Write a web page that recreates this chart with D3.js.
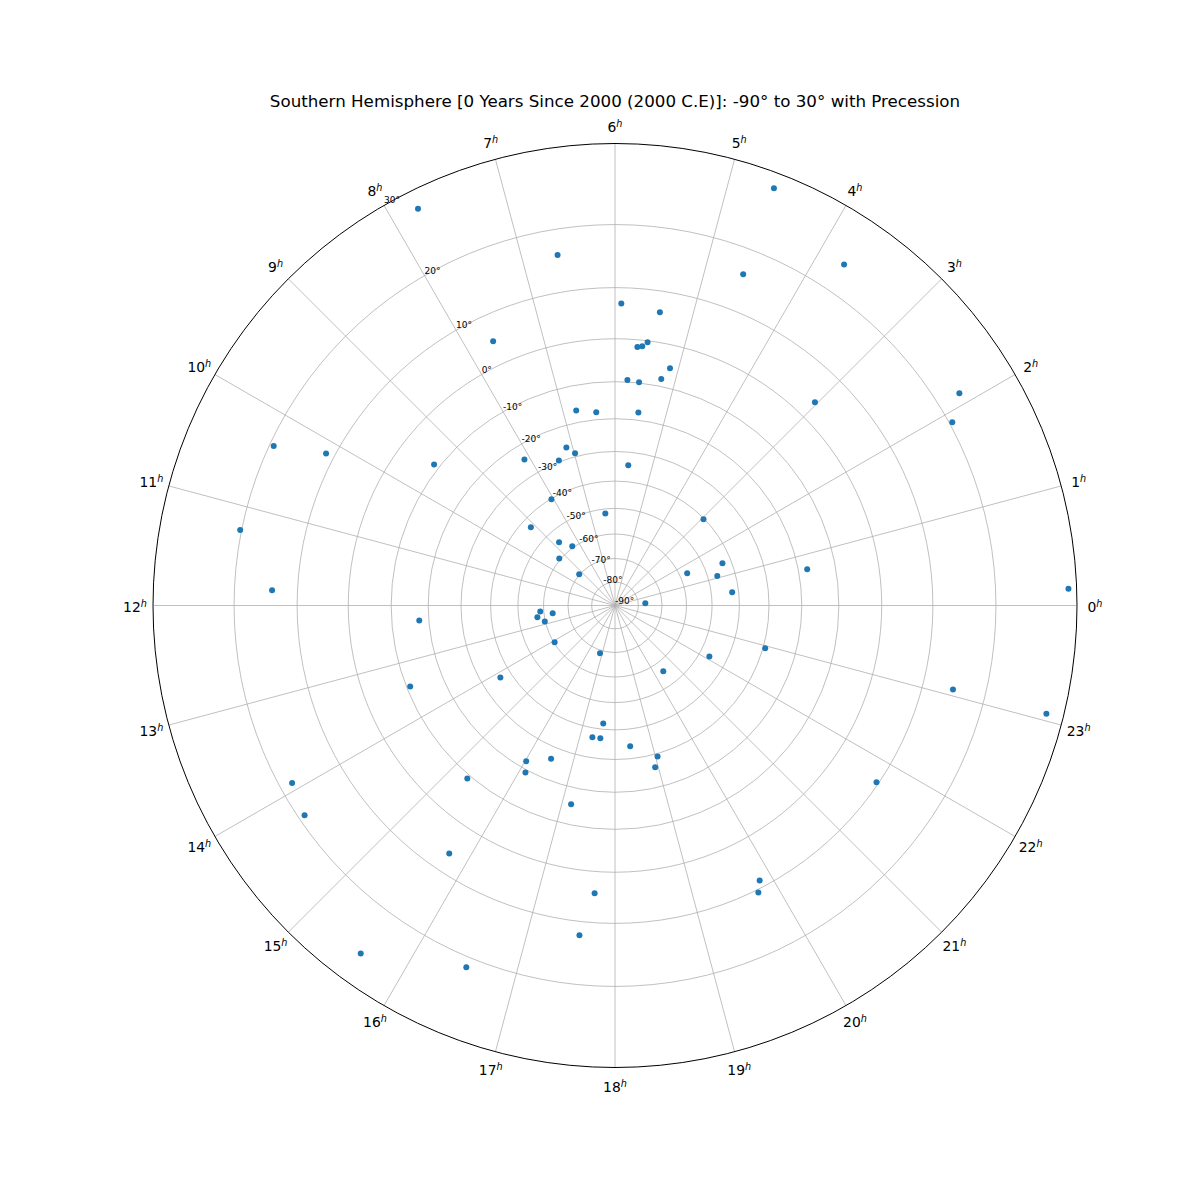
<!DOCTYPE html>
<html>
<head>
<meta charset="utf-8">
<script src="https://cdn.jsdelivr.net/npm/d3@7"></script>
<style>
  body { margin: 0; background: #ffffff; }
  svg { display: block; font-family: "DejaVu Sans", sans-serif; }
</style>
</head>
<body>
<svg id="chart" width="1200" height="1200"></svg>
<script>
// ---------------- data ----------------
const titleText = "Southern Hemisphere [0 Years Since 2000 (2000 C.E)]: -90° to 30° with Precession";
const hourTicks = d3.range(0, 24);
const decTicks = [-90, -80, -70, -60, -50, -40, -30, -20, -10, 0, 10, 20, 30];
const decLimits = [-90, 30];
// right ascension (hours) of each star
const raHours = [
  4.61, 7.76, 6.62, 4.59, 5.92, 5.42, 7.65, 5.67, 5.60, 5.53,
  5.13, 5.79, 5.59, 5.23, 6.75, 6.37, 5.54, 7.14, 3.03, 3.74,
  2.11, 1.90, 10.33, 10.15, 9.47, 11.24, 11.83, 12.29, 13.44, 8.12,
  7.41, 6.98, 5.64, 8.06, 6.40, 2.95, 9.14, 8.77, 8.39, 9.32,
  9.26, 1.43, 1.60, 1.07, 0.43, 0.71, 0.14, 0.28, 12.30, 12.48,
  12.58, 12.85, 14.09, 16.84, 22.94, 22.11, 20.42, 14.14, 17.62, 17.35,
  17.58, 18.41, 19.05, 18.93, 16.49, 16.02, 16.12, 15.30, 13.92, 14.27,
  15.75, 15.59, 21.73, 23.07, 23.06, 17.17, 19.85, 19.77, 17.73, 17.59,
  16.51
];
// declination (degrees) of each star
const decDeg = [
  28.3, 27.9, 16.2, 16.2, 7.1, 6.1, 5.0, -1.6, -1.3, -0.3,
  -5.2, -9.5, -9.8, -8.2, -16.6, -17.9, -17.8, -26.4, 3.8, 24.0,
  23.2, 20.4, 19.4, 11.5, -8.6, 20.2, 14.3, -17.3, -10.9, -24.4,
  -29.5, -28.9, -34.3, -40.2, -51.7, -40.3, -43.4, -54.9, -59.4, -59.4,
  -69.8, -43.2, -57.0, -46.5, -42.3, -17.5, 29.1, -77.0, -58.6, -63.5,
  -57.2, -59.8, -60.3, -68.7, -29.3, -46.2, -56.0, -36.2, -42.1, -36.8,
  -36.8, -34.1, -29.1, -26.0, -26.2, -22.2, -19.2, -9.1, 18.2, 19.1,
  6.4, 26.5, 9.6, 15.1, 28.1, -15.3, 8.7, 10.5, 4.5, 12.4,
  21.4
];

// ---------------- layout ----------------
const cx = 615, cy = 605.5, R = 462;
const gridColor = "#b0b0b0";
const pointColor = "#1f77b4";

const svg = d3.select("#chart");
svg.append("rect").attr("width", 1200).attr("height", 1200).attr("fill", "#ffffff");

// angle scale: hours -> radians (0h at east, counter-clockwise)
const angle = d3.scaleLinear().domain([0, 24]).range([0, 2 * Math.PI]);
// stereographic radial scale
const stereo = d => Math.tan((d - decLimits[0]) * Math.PI / 360);
const radius = d3.scaleLinear().domain([stereo(decLimits[0]), stereo(decLimits[1])]).range([0, R]);
const rOf = d => radius(stereo(d));
const X = (h, d) => cx + rOf(d) * Math.cos(angle(h));
const Y = (h, d) => cy - rOf(d) * Math.sin(angle(h));

const g = svg.append("g");

// rings
g.selectAll("circle.ring")
  .data(decTicks.filter(d => d > decLimits[0] && d < decLimits[1]))
  .join("circle")
  .attr("class", "ring")
  .attr("cx", cx).attr("cy", cy)
  .attr("r", d => rOf(d))
  .attr("fill", "none")
  .attr("stroke", gridColor)
  .attr("stroke-width", 0.8);

// spokes
g.selectAll("line.spoke")
  .data(hourTicks)
  .join("line")
  .attr("class", "spoke")
  .attr("x1", cx).attr("y1", cy)
  .attr("x2", h => X(h, decLimits[1]))
  .attr("y2", h => Y(h, decLimits[1]))
  .attr("stroke", gridColor)
  .attr("stroke-width", 0.8);

// outer spine
g.append("circle")
  .attr("cx", cx).attr("cy", cy).attr("r", rOf(decLimits[1]))
  .attr("fill", "none")
  .attr("stroke", "#000000")
  .attr("stroke-width", 1);

// radial tick labels along the 8h direction
const rLabelHour = 8;
g.selectAll("text.rlabel")
  .data(decTicks)
  .join("text")
  .attr("class", "rlabel")
  .attr("x", d => X(rLabelHour, d))
  .attr("y", d => Y(rLabelHour, d) - 2)
  .attr("font-size", "9px")
  .attr("fill", "#000")
  .attr("text-anchor", "start")
  .text(d => d + "°");

// hour labels
const labelR = R + 18;
const hl = g.selectAll("text.hlabel")
  .data(hourTicks)
  .join("text")
  .attr("class", "hlabel")
  .attr("x", h => cx + labelR * Math.cos(angle(h)))
  .attr("y", h => cy - labelR * Math.sin(angle(h)) + 6)
  .attr("font-size", "13.9px")
  .attr("text-anchor", "middle")
  .attr("fill", "#000");
hl.append("tspan").text(h => String(h));
hl.append("tspan")
  .attr("dy", -5)
  .attr("font-size", "9.7px")
  .attr("font-style", "italic")
  .text("h");

// stars
const stars = raHours.map((h, i) => ({ h: h, d: decDeg[i] }));
g.selectAll("circle.star")
  .data(stars)
  .join("circle")
  .attr("class", "star")
  .attr("cx", s => X(s.h, s.d))
  .attr("cy", s => Y(s.h, s.d))
  .attr("r", 3)
  .attr("fill", pointColor);

// title
svg.append("text")
  .attr("x", cx).attr("y", 107)
  .attr("text-anchor", "middle")
  .attr("font-size", "16.7px")
  .attr("fill", "#000")
  .text(titleText);
</script>
</body>
</html>
